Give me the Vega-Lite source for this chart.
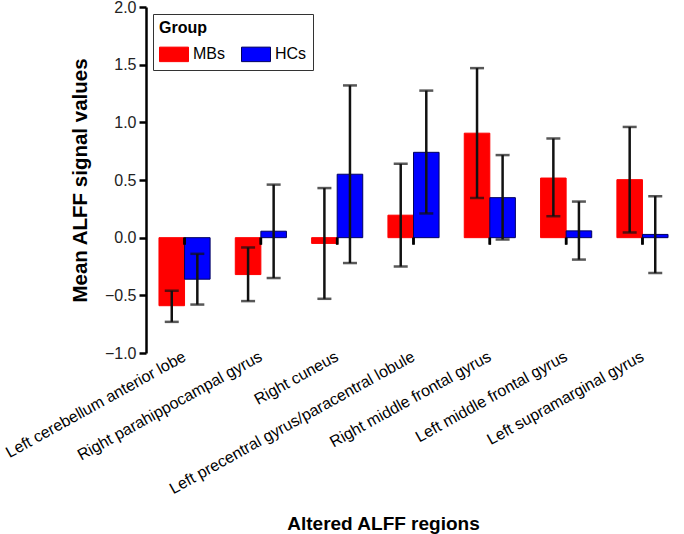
{
  "$schema": "https://vega.github.io/schema/vega-lite/v6.json",
  "width": 535,
  "height": 346,
  "autosize": "none",
  "padding": {"left": 146, "top": 7, "right": 3, "bottom": 181},
  "background": "white",
  "config": {
    "font": "Liberation Sans",
    "view": {"stroke": null},
    "axis": {"grid": false, "labelFont": "Liberation Sans", "titleFont": "Liberation Sans"}
  },
  "data": {
    "values": [
      {"region": "Left cerebellum anterior lobe", "Group": "MBs", "mean": -0.59, "lo": -0.73, "hi": -0.46},
      {"region": "Left cerebellum anterior lobe", "Group": "HCs", "mean": -0.36, "lo": -0.58, "hi": -0.14},
      {"region": "Right parahippocampal gyrus", "Group": "MBs", "mean": -0.32, "lo": -0.55, "hi": -0.085},
      {"region": "Right parahippocampal gyrus", "Group": "HCs", "mean": 0.056, "lo": -0.35, "hi": 0.46},
      {"region": "Right cuneus", "Group": "MBs", "mean": -0.05, "lo": -0.53, "hi": 0.43},
      {"region": "Right cuneus", "Group": "HCs", "mean": 0.55, "lo": -0.22, "hi": 1.32},
      {"region": "Left precentral gyrus/paracentral lobule", "Group": "MBs", "mean": 0.195, "lo": -0.25, "hi": 0.64},
      {"region": "Left precentral gyrus/paracentral lobule", "Group": "HCs", "mean": 0.74, "lo": 0.21, "hi": 1.275},
      {"region": "Right middle frontal gyrus", "Group": "MBs", "mean": 0.906, "lo": 0.344, "hi": 1.47},
      {"region": "Right middle frontal gyrus", "Group": "HCs", "mean": 0.347, "lo": -0.016, "hi": 0.716},
      {"region": "Left middle frontal gyrus", "Group": "MBs", "mean": 0.517, "lo": 0.186, "hi": 0.86},
      {"region": "Left middle frontal gyrus", "Group": "HCs", "mean": 0.059, "lo": -0.19, "hi": 0.313},
      {"region": "Left supramarginal gyrus", "Group": "MBs", "mean": 0.503, "lo": 0.045, "hi": 0.96},
      {"region": "Left supramarginal gyrus", "Group": "HCs", "mean": 0.028, "lo": -0.307, "hi": 0.36}
    ]
  },
  "encoding": {
    "x": {
      "field": "region",
      "type": "nominal",
      "sort": null,
      "scale": {"paddingInner": 0.33, "paddingOuter": 0.17},
      "axis": {
        "title": "Altered ALFF regions",
        "titleFontSize": 19,
        "titleFontWeight": "bold",
        "titleColor": "black",
        "titleX": 237,
        "titleY": 180,
        "titleAlign": "center",
        "titleBaseline": "bottom",
        "domain": false,
        "ticks": false,
        "labelAngle": -29,
        "labelAlign": "right",
        "labelBaseline": "middle",
        "labelPadding": 2,
        "labelFontSize": 16,
        "labelColor": "black",
        "labelLimit": 400
      }
    }
  },
  "layer": [
    {
      "mark": {"type": "bar", "strokeWidth": 1},
      "encoding": {
        "xOffset": {"field": "Group", "type": "nominal", "sort": ["MBs", "HCs"], "scale": {"paddingInner": 0, "paddingOuter": 0}},
        "y": {
          "field": "mean",
          "type": "quantitative",
          "scale": {"domain": [-1, 2], "nice": false, "zero": false},
          "axis": {
            "title": "Mean ALFF signal values",
            "titleFontSize": 20.5,
            "titleFontWeight": "bold",
            "titleColor": "black",
            "titleX": -66,
            "titleY": 173,
            "titleAlign": "center",
            "titleBaseline": "middle",
            "values": [-1, -0.5, 0, 0.5, 1, 1.5, 2],
            "format": ".1f",
            "labelFontSize": 16,
            "labelColor": "#222",
            "labelPadding": 3,
            "domainColor": "black",
            "domainWidth": 2.5,
            "tickColor": "black",
            "tickWidth": 2.5,
            "tickSize": 7
          }
        },
        "y2": {"datum": 0},
        "color": {
          "field": "Group",
          "type": "nominal",
          "sort": ["MBs", "HCs"],
          "scale": {"domain": ["MBs", "HCs"], "range": ["#ff0000", "#0000ff"]},
          "legend": {
            "title": "Group",
            "orient": "none",
            "legendX": 7,
            "legendY": 7,
            "direction": "horizontal",
            "strokeColor": "#333",
            "padding": 6,
            "titleFontSize": 16,
            "titleFontWeight": "bold",
            "titleColor": "black",
            "titlePadding": 3,
            "labelFontSize": 16,
            "labelColor": "black",
            "symbolType": "M-1,-0.5H1V0.5H-1Z",
            "symbolSize": 841,
            "symbolOpacity": 1,
            "symbolStrokeWidth": 1,
            "columnPadding": 14,
            "labelOffset": 4
          }
        },
        "stroke": {
          "field": "Group",
          "type": "nominal",
          "sort": ["MBs", "HCs"],
          "scale": {"domain": ["MBs", "HCs"], "range": ["#ff0000", "#000060"]},
          "legend": null
        }
      }
    },
    {
      "mark": {"type": "rule", "color": "black", "strokeWidth": 2.5},
      "encoding": {"y": {"datum": 0}}
    },
    {
      "mark": {"type": "rule", "color": "black", "strokeWidth": 2.5},
      "encoding": {"y": {"datum": 0}, "y2": {"datum": -0.06}}
    },
    {
      "mark": {"type": "rule", "color": "#111", "strokeWidth": 2.5},
      "encoding": {
        "xOffset": {"field": "Group", "type": "nominal", "sort": ["MBs", "HCs"]},
        "y": {"field": "lo", "type": "quantitative"},
        "y2": {"field": "hi"}
      }
    },
    {
      "mark": {"type": "tick", "color": "#111", "orient": "horizontal", "size": 14, "thickness": 2.5},
      "encoding": {
        "xOffset": {"field": "Group", "type": "nominal", "sort": ["MBs", "HCs"]},
        "y": {"field": "lo", "type": "quantitative"}
      }
    },
    {
      "mark": {"type": "tick", "color": "#111", "orient": "horizontal", "size": 14, "thickness": 2.5},
      "encoding": {
        "xOffset": {"field": "Group", "type": "nominal", "sort": ["MBs", "HCs"]},
        "y": {"field": "hi", "type": "quantitative"}
      }
    }
  ]
}
